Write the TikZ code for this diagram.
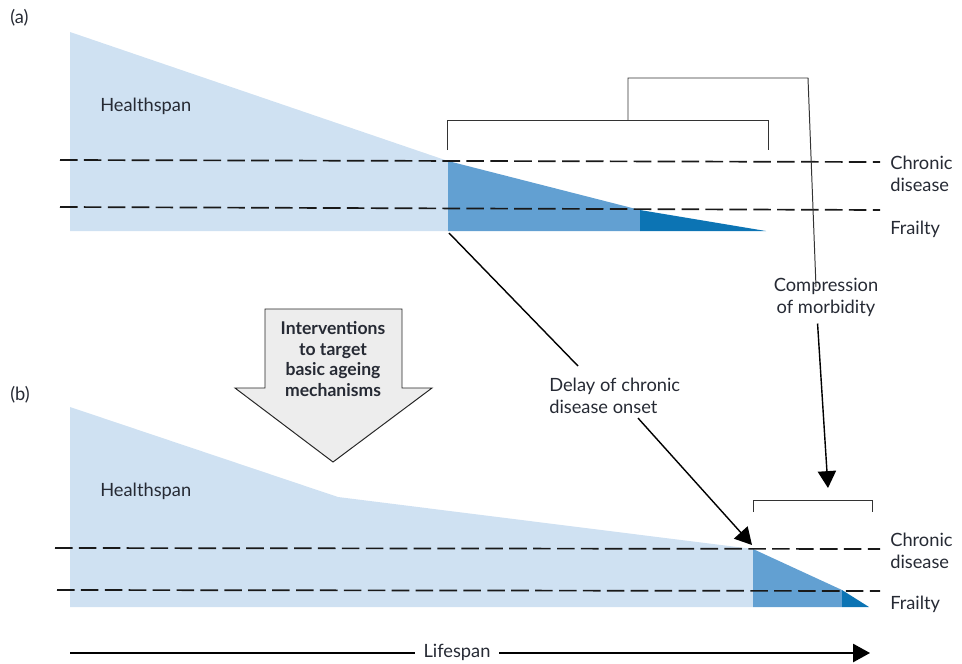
\documentclass[tikz,border=0pt]{standalone}
\usepackage{fontspec}
\setmainfont{Lato}
\usepackage{xcolor}
\usetikzlibrary{positioning,arrows.meta}

\definecolor{healthblue}{RGB}{207,225,242}
\definecolor{diseaseblue}{RGB}{98,160,210}
\definecolor{frailblue}{RGB}{12,116,180}
\definecolor{labelgray}{RGB}{38,42,52}

\begin{document}
\begin{tikzpicture}[
    x=0.025cm,
    y=-0.025cm,
    >={Triangle[length=12pt,width=13pt]},
    font=\fontsize{13}{15.6}\selectfont
]

\tikzstyle{dashline}=[
    dash pattern=on 12.5pt off 4.5pt,
    line width=1.2pt,
    draw=black!90
]
\tikzstyle{tag}=[
    text=labelgray,
    align=left,
    anchor=west,
    inner sep=0pt
]
\tikzstyle{bracket}=[
    line width=0.7pt,
    draw=black!80
]
\tikzstyle{pointer}=[
    line width=1pt
]

\useasboundingbox (0,0) rectangle (962,664);

% panel (a)
\fill[healthblue] (70,32) -- (448,161) -- (448,231) -- (70,231) -- cycle;
\fill[diseaseblue] (448,161) -- (640,210) -- (640,231) -- (448,231) -- cycle;
\fill[frailblue] (640,210) -- (766,231) -- (640,231) -- cycle;

\draw[dashline] (60,160) -- (880,162);
\draw[dashline] (60,207) -- (880,210);

\node[tag] (labA) at (10,18) {(a)};
\node[tag] (healthA) at (100,106) {Healthspan};
\node[tag] (chronA) at (890,174) {Chronic\\disease};
\node[tag] (frailA) at (890,229) {Frailty};

\draw[bracket] (447,150) |- (768,120) -- (768,150);
\draw[bracket] (628,120) |- (808,78) -- (816,287);

\node[text=labelgray, align=center, inner sep=0pt] (comp) at (826,297) {Compression\\of morbidity};
\coordinate (compEnd) at (828,488);
\draw[pointer,->] (comp.south) ++(-6pt,-5pt) -- (compEnd);

% intervention arrow
\filldraw[fill=black!7, draw=black!85, line width=0.7pt]
    (265,309) -- (402,309) -- (402,388) -- (432,388) -- (333,462)
    -- (235,388) -- (265,388) -- cycle;
\node[align=center, font=\bfseries\fontsize{12.5}{14.7}\selectfont, text=labelgray] (interv) at (333,359)
    {Interventions\\to target\\basic ageing\\mechanisms};

% delay of onset
\node[tag] (delay) at (549,396) {Delay of chronic\\disease onset};
\coordinate (onsetA) at (449,233);
\coordinate (delayTop) at (578,366);
\coordinate (onsetB) at (752,545);
\draw[pointer] (onsetA) -- (delayTop);
\draw[pointer,->] (delay.south west) ++(89,4) -- (onsetB);

% panel (b)
\fill[healthblue] (70,407) -- (338,497) -- (753,549) -- (753,607) -- (70,607) -- cycle;
\fill[diseaseblue] (753,549) -- (842,590) -- (842,607) -- (753,607) -- cycle;
\fill[frailblue] (842,590) -- (869,607) -- (842,607) -- cycle;

\draw[dashline] (55,548) -- (880,549);
\draw[dashline] (57,590) -- (880,591);

\node[tag] (labB) at (10,395) {(b)};
\node[tag] (healthB) at (100,491) {Healthspan};
\node[tag] (chronB) at (890,551) {Chronic\\disease};
\node[tag] (frailB) at (890,604) {Frailty};

\draw[bracket] (753,512) |- (872,500) -- (872,512);

% lifespan axis
\node[text=labelgray, inner sep=0pt] (life) at (457,652) {Lifespan};
\coordinate (lifeStart) at (70,653);
\coordinate (lifeEnd) at (870,653);
\draw[pointer] (lifeStart) -- ([xshift=-6pt]life.west |- lifeStart);
\draw[pointer,->] ([xshift=6pt]life.east |- lifeEnd) -- (lifeEnd);

\end{tikzpicture}
\end{document}
